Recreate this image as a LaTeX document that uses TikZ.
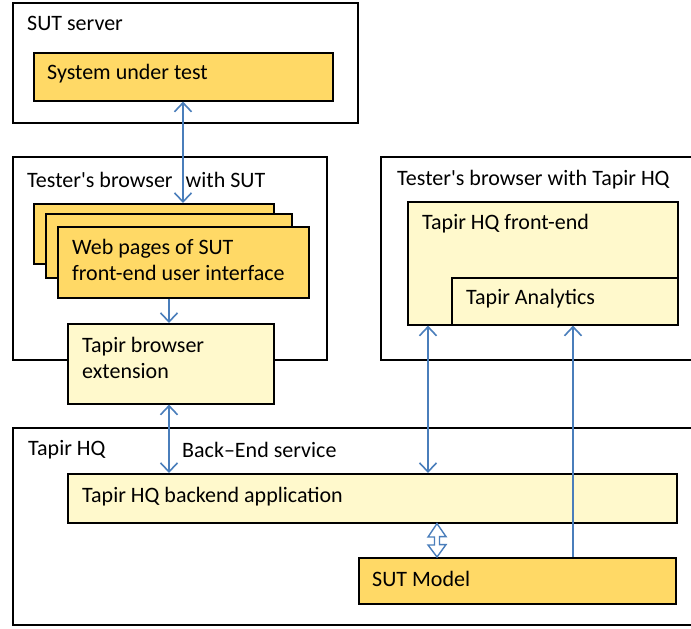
\documentclass[tikz,border=0pt]{standalone}
\usepackage{fontspec}
\newfontfamily\carl{Carlito}
\usetikzlibrary{arrows.meta,calc}
\definecolor{gold}{HTML}{FFD966}
\definecolor{lightyel}{HTML}{FFF9CC}
\definecolor{arrblue}{HTML}{4A7EBB}
\tikzset{
  outerbox/.style={draw=black, line width=1.6pt, fill=white},
  goldbox/.style={draw=black, line width=1.6pt, fill=gold},
  yelbox/.style={draw=black, line width=1.6pt, fill=lightyel},
  lbl/.style={anchor=west, inner sep=0pt, font=\carl\fontsize{22}{25.5}\selectfont, align=left},
  conn/.style={draw=arrblue, line width=1.6pt},
  blockarr/.style={draw=arrblue, line width=1.4pt, fill=white, line join=miter},
}
\begin{document}
\begin{tikzpicture}[x=1pt,y=-1pt]
\useasboundingbox (0,0) rectangle (691,629);
\clip (0,0) rectangle (691,629);
\fill[white] (0,0) rectangle (691,629);

% SUT server
\draw[outerbox] (13,3) rectangle (358,123);
\node[lbl] (sutserverlbl) at (27,23) {SUT server};
\node[goldbox, anchor=north west, minimum width=299pt, minimum height=48pt, inner sep=0pt] (sut) at (33,52) {};
\node[lbl] (sutlbl) at (47,74) {System under test};

% Tester's browser with SUT
\draw[outerbox] (13,157) rectangle (327,360);
\node[lbl] (browserlbl) at (27,180) {Tester's browser\hspace{13pt}with SUT};
\node[goldbox, anchor=north west, minimum width=240pt, minimum height=60pt, inner sep=0pt] (pageback) at (33,203) {};
\node[goldbox, anchor=north west, minimum width=246pt, minimum height=64pt, inner sep=0pt] (pagemid) at (45,213) {};
\node[goldbox, anchor=north west, minimum width=251pt, minimum height=71pt, inner sep=0pt] (pages) at (57,226) {};
\node[lbl] (pageslbl) at (72,260) {Web pages of SUT\\front-end user interface};
\node[yelbox, anchor=north west, minimum width=206pt, minimum height=80pt, inner sep=0pt] (ext) at (67,323) {};
\node[lbl] (extlbl) at (82,358) {Tapir browser\\extension};

% Tester's browser with Tapir HQ
\draw[outerbox] (381,157) rectangle (700,360);
\node[lbl] (hqbrowserlbl) at (397,180) {Tester's browser with Tapir HQ};
\node[yelbox, anchor=north west, minimum width=270pt, minimum height=123pt, inner sep=0pt] (front) at (407,201) {};
\node[lbl] (frontlbl) at (422,224) {Tapir HQ front-end};
\node[yelbox, anchor=north west, minimum width=226pt, minimum height=47pt, inner sep=0pt] (analytics) at (451,277) {};
\node[lbl] (analyticslbl) at (466,299) {Tapir Analytics};

% Tapir HQ
\draw[outerbox] (13,428) rectangle (700,625);
\node[lbl] (hqlbl) at (28,450) {Tapir HQ};
\node[lbl] (servicelbl) at (182,450) {Back–End service};
\node[yelbox, anchor=north west, minimum width=609pt, minimum height=49pt, inner sep=0pt] (backend) at (67,473) {};
\node[lbl] (backendlbl) at (82,497) {Tapir HQ backend application};
\node[goldbox, anchor=north west, minimum width=317pt, minimum height=46pt, inner sep=0pt] (model) at (358,557) {};
\node[lbl] (modellbl) at (372,579) {SUT Model};

% connector x positions
\coordinate (xa) at (183,0);
\coordinate (xb) at (169,0);
\coordinate (xc) at (428,0);
\coordinate (xd) at (573,0);
\coordinate (xe) at (437,0);

\draw[conn, {Straight Barb[length=9pt,width=17pt]}-{Straight Barb[length=9pt,width=17pt]}] (sut.south -| xa) -- (pageback.north -| xa);
\draw[conn, -{Straight Barb[length=9pt,width=17pt]}] (pages.south -| xb) -- (ext.north -| xb);
\draw[conn, {Straight Barb[length=9pt,width=17pt]}-{Straight Barb[length=9pt,width=17pt]}] (ext.south -| xb) -- (backend.north -| xb);
\draw[conn, {Straight Barb[length=9pt,width=17pt]}-{Straight Barb[length=9pt,width=17pt]}] (front.south -| xc) -- (backend.north -| xc);
\draw[conn, -{Straight Barb[length=9pt,width=17pt]}] (model.north -| xd) -- (analytics.south -| xd);

% block double arrow between backend and model
\draw[blockarr] (backend.south -| xe) -- ++(9,13) -- ++(-6.5,0) -- ++(0,8) -- ++(6.5,0)
  -- (model.north -| xe) -- ++(-9,-12) -- ++(6.5,0) -- ++(0,-8) -- ++(-6.5,0) -- cycle;
\end{tikzpicture}
\end{document}
